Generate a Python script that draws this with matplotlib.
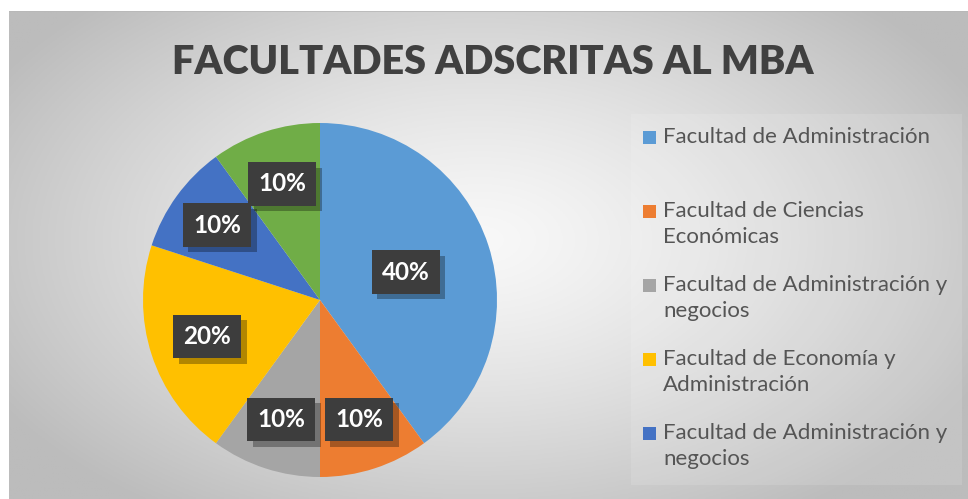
import numpy as np
import matplotlib
matplotlib.use("Agg")
import matplotlib.pyplot as plt
from matplotlib.patches import Rectangle
import matplotlib.patheffects as pe

# ---------------- data ----------------
title = "FACULTADES ADSCRITAS AL MBA"
categories = [
    "Facultad de Administración",
    "Facultad de Ciencias\nEconómicas",
    "Facultad de Administración y\nnegocios",
    "Facultad de Economía y\nAdministración",
    "Facultad de Administración y\nnegocios",
    "Otra facultad",
]
values = [40, 10, 10, 20, 10, 10]
colors = ["#5B9BD5", "#ED7D31", "#A5A5A5", "#FFC000", "#4472C4", "#70AD47"]
legend_shown = 5  # the last entry is cut off in the original legend

# ---------------- style ----------------
W, H = 968, 499
DPI = 100

fig = plt.figure(figsize=(W / DPI, H / DPI), dpi=DPI, facecolor="white")

def fx(px):
    return px / W

def fy(py):
    return 1 - py / H

# background: radial grey gradient in the chart area
x0, y0 = 9, 11
bg = fig.add_axes([fx(x0), 0, 1 - fx(x0), fy(y0)])
bg.set_axis_off()
gx = np.linspace(x0, W, 400)
gy = np.linspace(y0, H, 200)
X, Y = np.meshgrid(gx, gy)
d = np.sqrt(((X - 480) / 560) ** 2 + ((Y - 240) / 330) ** 2)
c = np.clip(248 - 60 * d ** 1.3, 188, 255) / 255.0
img = np.dstack([c, c, c])
bg.imshow(img, extent=[0, 1, 0, 1], aspect="auto", origin="upper")
bg.set_xlim(0, 1)
bg.set_ylim(0, 1)
bg.plot([0, 1], [0.999, 0.999], color="#b8b8b8", lw=1.2)
# faint legend panel
bg.add_patch(Rectangle(((631 - x0) / (W - x0), 1 - (485 - y0) / (H - y0)),
                       (962 - 631) / (W - x0), (485 - 114) / (H - y0),
                       transform=bg.transAxes, facecolor="white", alpha=0.12,
                       edgecolor="none"))

# title
fig.text(fx(493), fy(63), title, ha="center", va="center",
         fontsize=28.5, fontweight="heavy", color="#404040", family="Lato")

# pie
cx, cy, R = 320, 300, 177
ax = fig.add_axes([fx(cx - R), fy(cy + R), 2 * R / W, 2 * R / H])
wedges, _ = ax.pie(values, colors=colors, startangle=90, counterclock=False,
                   radius=1.0, wedgeprops=dict(edgecolor="none", linewidth=0))
ax.set_xlim(-1, 1)
ax.set_ylim(-1, 1)
ax.set_aspect("equal")
ax.set_axis_off()

label_dist = [0.51, 0.71, 0.71, 0.67, 0.72, 0.69]
total = sum(values)
for w, v, r in zip(wedges, values, label_dist):
    ang = np.deg2rad((w.theta1 + w.theta2) / 2)
    t = ax.text(r * np.cos(ang), r * np.sin(ang), f"{v / total:.0%}",
                ha="center", va="center", fontsize=17.5, fontweight="bold",
                color="white", family="Lato",
                bbox=dict(boxstyle="square,pad=0.42", facecolor="#3d3d3d",
                          edgecolor="none", linewidth=0))
    t.get_bbox_patch().set_path_effects([
        pe.SimplePatchShadow(offset=(4, -4), shadow_rgbFace="#000000", alpha=0.3),
        pe.Normal()])

# legend (drawn manually to mimic the original spacing)
for i in range(legend_shown):
    yc = 137 + 74 * i
    fig.patches.append(Rectangle((fx(643), fy(yc + 7)), 13 / W, 13 / H,
                                 transform=fig.transFigure, facecolor=colors[i],
                                 edgecolor="none"))
    fig.text(fx(663), fy(yc - 10), categories[i], ha="left", va="top",
             fontsize=16, color="#555555", family="Lato", linespacing=1.4)

fig.savefig("out.png", dpi=DPI, facecolor="white")
